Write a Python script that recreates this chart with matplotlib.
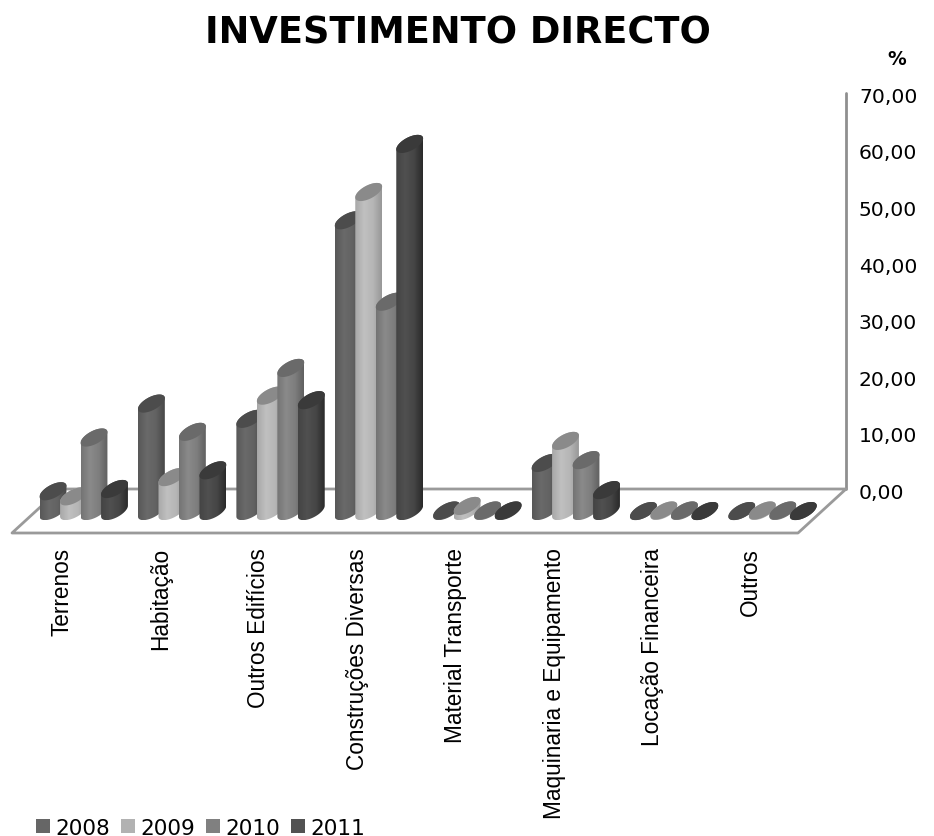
import numpy as np
import matplotlib
matplotlib.use('Agg')
import matplotlib.pyplot as plt
from matplotlib.colors import LinearSegmentedColormap
from matplotlib.patches import Patch, Polygon

# data
categories = ['Terrenos', 'Habitação', 'Outros Edifícios', 'Construções Diversas',
              'Material Transporte', 'Maquinaria e Equipamento', 'Locação Financeira', 'Outros']
years = ['2008', '2009', '2010', '2011']
v2008 = [3.5, 19.0, 16.3, 51.4, 0.1, 8.5, 0.0, 0.0]
v2009 = [2.6, 6.0, 20.4, 56.4, 0.9, 12.4, 0.1, 0.1]
v2010 = [13.0, 14.0, 25.3, 37.0, 0.1, 9.0, 0.1, 0.1]
v2011 = [3.9, 7.2, 19.6, 64.9, 0.1, 3.7, 0.0, 0.0]
y_ticks = [0, 10, 20, 30, 40, 50, 60, 70]

series = [v2008, v2009, v2010, v2011]
body_cols = [['#585858', '#6a6a6a', '#626262', '#484848'],
             ['#a8a8a8', '#c0c0c0', '#b6b6b6', '#989898'],
             ['#747474', '#8a8a8a', '#7e7e7e', '#606060'],
             ['#444444', '#505050', '#464646', '#2a2a2a']]
top_cols = ['#4c4c4c', '#8a8a8a', '#6a6a6a', '#3a3a3a']
legend_cols = ['#666666', '#b2b2b2', '#808080', '#525252']

# px per unit of the value scale, and where the bars stand on the floor
scale = 5.657
y_zero = 490
base = -3.9
bar_w = 26
x0, group_step, bar_step = 40, 98.4, 20.5

fig = plt.figure(figsize=(9.34, 8.37), dpi=100)
ax = fig.add_axes([0, 0, 1, 1])
ax.axis('off')


def ellipse(cx, cy):
    t = np.linspace(0, 2 * np.pi, 120, endpoint=False)
    th = np.radians(28)
    x = 14.8 * np.cos(t) * np.cos(th) - 6.6 * np.sin(t) * np.sin(th)
    y = 14.8 * np.cos(t) * np.sin(th) + 6.6 * np.sin(t) * np.cos(th)
    return cx + x, cy + y / scale


def cylinder(left, value, i, z):
    cx = left + bar_w / 2
    bx, by = ellipse(cx, base)
    tx, ty = ellipse(cx, base + value)
    # lower half of the base joined to upper half of the top
    il, ir = np.argmin(bx), np.argmax(bx)
    lower = np.roll(np.arange(120), -il)[:(ir - il) % 120 + 1]
    upper = np.roll(np.arange(120), -ir)[:(il - ir) % 120 + 1]
    pts = np.vstack([np.c_[bx[lower], by[lower]], np.c_[tx[upper], ty[upper]]])
    clip = Polygon(pts, closed=True, transform=ax.transData, fc='none', ec='none')
    ax.add_patch(clip)
    cmap = LinearSegmentedColormap.from_list('b', body_cols[i])
    im = ax.imshow(np.linspace(0, 1, 64).reshape(1, -1), cmap=cmap, aspect='auto',
                   extent=[bx.min(), bx.max(), by.min(), ty.max()], zorder=z)
    im.set_clip_path(clip)
    ax.fill(tx, ty, color=top_cols[i], lw=0, zorder=z + 0.1)


# floor and wall
floor_y = (y_zero - 534) / scale
ax.plot([846, 846], [0, 70], color='#8f8f8f', lw=2, zorder=1, solid_capstyle='round')
ax.plot([60, 846, 798, 12, 60], [0, 0, floor_y, floor_y, 0], color='#9a9a9a', lw=2, zorder=1)

for g in range(len(categories)):
    for i, vals in enumerate(series):
        left = x0 + g * group_step + i * bar_step
        cylinder(left, vals[g], i, 2 + g + i * 0.2)
    ax.text(x0 + g * group_step + 22, (y_zero - 548) / scale, categories[g], rotation=90,
            ha='center', va='top', fontsize=16.3, family='Liberation Sans', color='black')

for t in y_ticks:
    ax.text(859, t - 0.6, '%d,00' % t, ha='left', va='center', fontsize=14.6, color='black')
ax.text(897, (y_zero - 60) / scale, '%', ha='center', va='center', fontsize=13.5,
        fontweight='bold', color='black')
ax.text(458, (y_zero - 33) / scale, 'INVESTIMENTO DIRECTO', ha='center', va='center',
        fontsize=26.5, fontweight='bold', color='black')

handles = [Patch(color=c, lw=0) for c in legend_cols]
ax.legend(handles, years, loc='lower left', bbox_to_anchor=(0.022, -0.02), ncol=4, frameon=False,
          fontsize=15.6, handlelength=0.65, handleheight=0.65, handletextpad=0.25, columnspacing=0.5,
          borderpad=0.2)

ax.set_xlim(0, 934)
ax.set_ylim((y_zero - 837) / scale, y_zero / scale)
fig.savefig('out.png', dpi=100)
